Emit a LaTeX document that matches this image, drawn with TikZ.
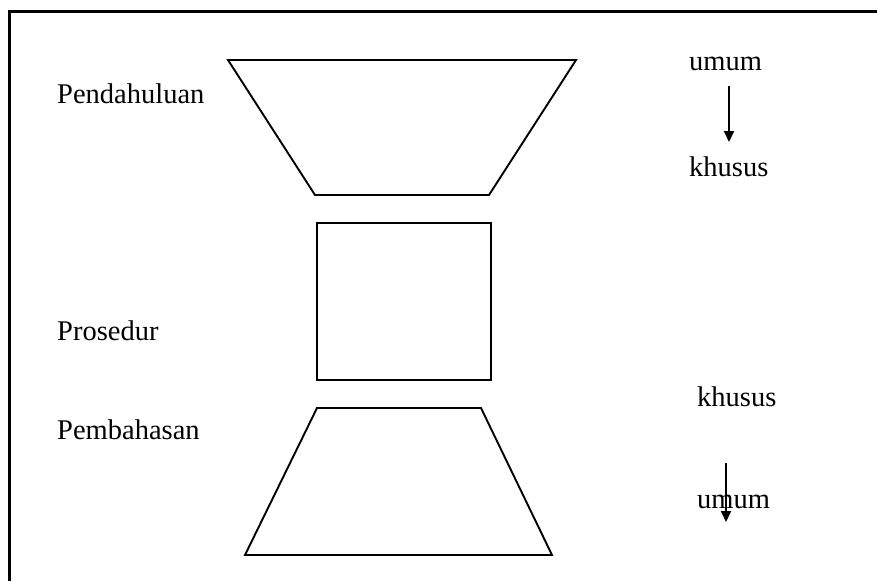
\documentclass[tikz,border=0pt]{standalone}
\usepackage{fontspec}
\setmainfont{Liberation Serif}
\usetikzlibrary{arrows.meta}
\begin{document}
\begin{tikzpicture}[x=1pt,y=-1pt,
  shapeline/.style={draw=black,line width=1.9pt,line join=miter},
  lbl/.style={inner sep=0pt,anchor=base west,font=\fontsize{28.5}{34}\selectfont},
  flow/.style={line width=1.9pt,-{Triangle[length=11pt,width=10pt]}}]
\useasboundingbox (0,0) rectangle (877,581);
% frame (top and left only)
\draw[line width=3pt] (9,581) -- (9,11) -- (877,11);
% top trapezoid
\draw[shapeline] (228,60) -- (576,60) -- (489,195) -- (315,195) -- cycle;
% rectangle
\node[shapeline,minimum width=174pt,minimum height=157pt,inner sep=0pt,anchor=north west] (proc) at (316,222) {};
% bottom trapezoid
\draw[shapeline] (317,408) -- (481,408) -- (552,555) -- (245,555) -- cycle;
% labels
\node[lbl] (pend) at (57,103) {Pendahuluan};
\node[lbl] (pros) at (57,340) {Prosedur};
\node[lbl] (pemb) at (57,439) {Pembahasan};
\node[lbl] (umum1) at (689,70) {umum};
\node[lbl] (khusus1) at (689,176) {khusus};
\node[lbl] (khusus2) at (697,406) {khusus};
\node[lbl] (umum2) at (697,508) {umum};
% arrows
\coordinate (a1s) at (729,86);
\coordinate (a1e) at (729,142);
\coordinate (a2s) at (726,463);
\coordinate (a2e) at (726,522);
\draw[flow] (a1s) -- (a1e);
\draw[flow] (a2s) -- (a2e);
\end{tikzpicture}
\end{document}
